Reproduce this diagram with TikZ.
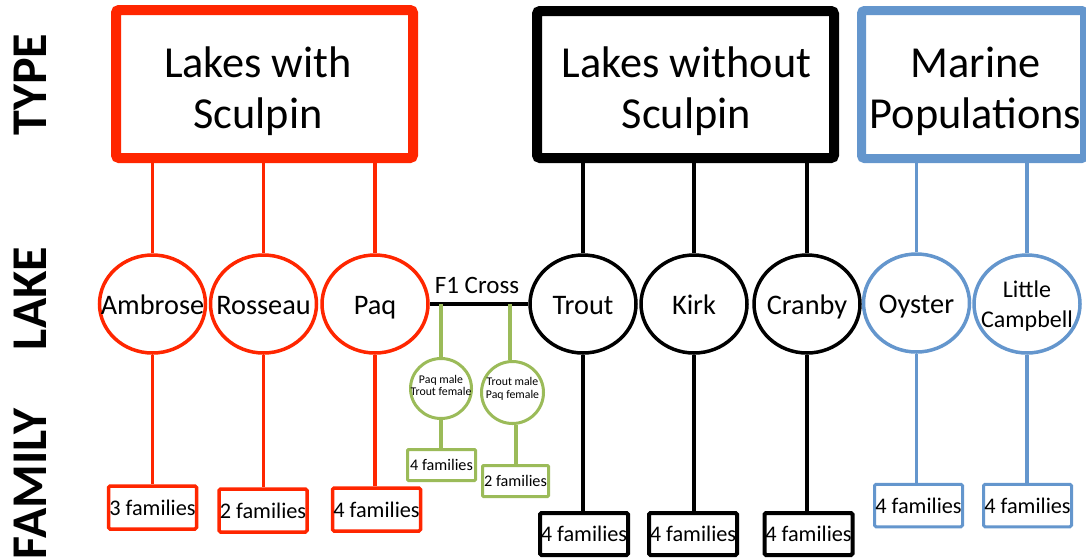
\documentclass[tikz,border=0pt]{standalone}
\usepackage{fontspec}
\setmainfont{Carlito}
\usetikzlibrary{shapes.geometric}
\definecolor{redc}{RGB}{255,38,0}
\definecolor{bluec}{RGB}{100,150,205}
\definecolor{greenc}{RGB}{155,187,89}
\begin{document}
\begin{tikzpicture}[x=1pt,y=-1pt,
  typebox/.style={draw, rectangle, rounded corners=3pt, line width=10pt, fill=white, inner sep=0pt},
  typetext/.style={align=center, font=\fontsize{44.3}{51}\selectfont, inner sep=0pt},
  rowlbl/.style={rotate=90, anchor=base, inner sep=0pt, font=\fontsize{50}{52}\selectfont\bfseries},
  lake/.style={draw, ellipse, line width=3.5pt, minimum width=106pt, minimum height=98pt, inner sep=0pt, fill=white},
  lakelbl/.style={font=\fontsize{28.3}{33}\selectfont, inner sep=0pt, text height=20pt, text depth=0pt},
  fam/.style={draw, rectangle, rounded corners=1.5pt, line width=3.5pt, minimum width=88pt, minimum height=43pt, inner sep=0pt, font=\fontsize{22.3}{26}\selectfont, fill=white},
  crossc/.style={draw=greenc, ellipse, line width=3pt, minimum width=61pt, minimum height=61pt, inner sep=0pt, fill=white},
  crosslbl/.style={align=center, inner sep=0pt, font=\fontsize{11.8}{12.4}\selectfont},
  gfam/.style={draw=greenc, rectangle, rounded corners=1pt, line width=3pt, minimum width=67pt, minimum height=31pt, inner sep=0pt, font=\fontsize{16.2}{19}\selectfont, fill=white},
  redl/.style={draw=redc, line width=3.2pt},
  blkl/.style={draw=black, line width=3.5pt},
  blul/.style={draw=bluec, line width=3.2pt},
  grnl/.style={draw=greenc, line width=4pt}
]
\useasboundingbox (0,0) rectangle (1086,558);

% row labels
\node[rowlbl] (ltype) at (46,84.5) {TYPE};
\node[rowlbl] (llake) at (46,298.5) {LAKE};
\node[rowlbl] (lfam) at (46,484) {FAMILY};

% type boxes
\node[typebox, draw=redc, minimum width=297pt, minimum height=148pt] (typeR) at (264.5,84) {};
\node[typebox, draw=black, minimum width=297pt, minimum height=147pt] (typeK) at (685.5,84.5) {};
\node[typebox, draw=bluec, line width=9pt, minimum width=223pt, minimum height=148pt] (typeB) at (973,84.5) {};
\node[typetext] (tR) at (258,91) {Lakes with\\Sculpin};
\node[typetext] (tK) at (686.5,91) {Lakes without\\Sculpin};
\node[typetext] (tB) at (975.5,91) {Marine\\Populations};

% lakes
\node[lake, draw=redc] (ambrose) at (152.5,304) {};
\node[lake, draw=redc] (rosseau) at (263.5,304) {};
\node[lake, draw=redc] (paq) at (375,304) {};
\node[lake, draw=black] (trout) at (583,304) {};
\node[lake, draw=black] (kirk) at (694,304) {};
\node[lake, draw=black] (cranby) at (807,304) {};
\node[lake, draw=bluec] (oyster) at (916.5,303) {};
\node[lake, draw=bluec] (lcamp) at (1027,304) {};
\node[lakelbl] (nAmbrose) at (ambrose) {Ambrose};
\node[lakelbl] (nRosseau) at (rosseau) {Rosseau};
\node[lakelbl] (nPaq) at (paq) {Paq};
\node[lakelbl] (nTrout) at (trout) {Trout};
\node[lakelbl] (nKirk) at (kirk) {Kirk};
\node[lakelbl] (nCranby) at (cranby) {Cranby};
\node[lakelbl] (nOyster) at (oyster) {Oyster};
\node[align=center, inner sep=0pt, font=\fontsize{24}{30}\selectfont] (nLcamp) at (1027,306) {Little\\Campbell};

% families
\node[fam, draw=redc] (famA) at (152.5,507.5) {3 families};
\node[fam, draw=redc] (famR) at (263,510.5) {2 families};
\node[fam, draw=redc] (famP) at (376.5,509.5) {4 families};
\node[fam, draw=black, line width=4pt, minimum width=88pt, minimum height=42pt] (famT) at (584,534) {4 families};
\node[fam, draw=black, line width=4pt, minimum width=88pt, minimum height=42pt] (famK) at (693,534) {4 families};
\node[fam, draw=black, line width=4pt, minimum width=88pt, minimum height=42pt] (famC) at (808.5,534) {4 families};
\node[fam, draw=bluec, line width=3pt, minimum width=88pt, minimum height=42.5pt] (famO) at (918.5,505.5) {4 families};
\node[fam, draw=bluec, line width=3pt, minimum width=88pt, minimum height=42.5pt] (famL) at (1027.5,505.5) {4 families};

% F1 cross
\node[crossc, minimum width=61pt, minimum height=60pt] (cross1) at (441,388.5) {};
\node[crossc, minimum width=62pt, minimum height=62pt] (cross2) at (512.5,392.5) {};
\node[crosslbl] (nCross1) at (441,385.5) {Paq male\\Trout female};
\node[crosslbl] (nCross2) at (512.5,388.7) {Trout male\\Paq female};
\node[gfam, minimum width=68pt] (gfam1) at (441.5,465) {4 families};
\node[gfam, minimum width=66pt] (gfam2) at (515.5,481) {2 families};
\node[inner sep=0pt, anchor=base, font=\fontsize{25}{29}\selectfont] (f1lbl) at (477,293) {F1 Cross};
\coordinate (f1a) at (cross1.north |- paq.east);
\coordinate (f1b) at (510,304);

% connectors: type -> lake
\draw[redl] (typeR.south -| ambrose.north) -- (ambrose.north);
\draw[redl] (typeR.south -| rosseau.north) -- (rosseau.north);
\draw[redl] (typeR.south -| paq.north) -- (paq.north);
\draw[blkl] (typeK.south -| trout.north) -- (trout.north);
\draw[blkl] (typeK.south -| kirk.north) -- (kirk.north);
\draw[blkl] (typeK.south -| cranby.north) -- (cranby.north);
\draw[blul] (typeB.south -| oyster.north) -- (oyster.north);
\draw[blul] (typeB.south -| lcamp.north) -- (lcamp.north);

% connectors: lake -> family
\draw[redl] (ambrose.south) -- (ambrose.south |- famA.north);
\draw[redl] (rosseau.south) -- (rosseau.south |- famR.north);
\draw[redl] (paq.south) -- (paq.south |- famP.north);
\draw[blkl] (trout.south) -- (trout.south |- famT.north);
\draw[blkl] (kirk.south) -- (kirk.south |- famK.north);
\draw[blkl] (cranby.south) -- (cranby.south |- famC.north);
\draw[blul] (oyster.south) -- (oyster.south |- famO.north);
\draw[blul] (lcamp.south) -- (lcamp.south |- famL.north);

% F1 cross connectors
\draw[draw=black, line width=3.2pt] (paq.east) -- (trout.west);
\draw[grnl] (f1a) -- (cross1.north);
\draw[grnl] (cross1.south) -- (cross1.south |- gfam1.north);
\draw[grnl] (f1b) -- (f1b |- cross2.north);
\draw[grnl] (gfam2.north |- cross2.south) -- (gfam2.north);
\end{tikzpicture}
\end{document}
